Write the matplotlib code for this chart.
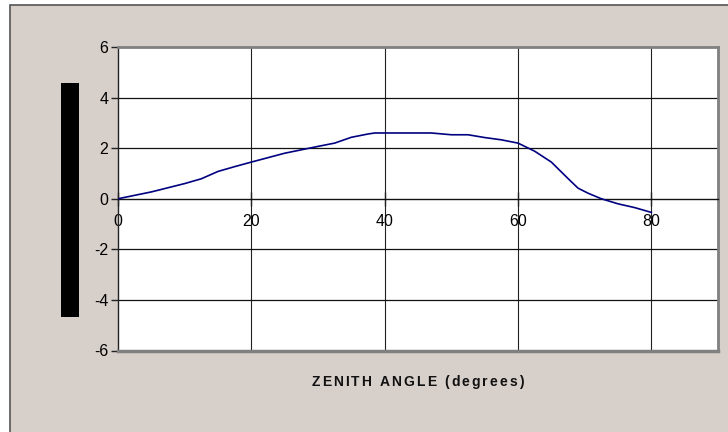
import matplotlib
matplotlib.use("Agg")
import matplotlib.pyplot as plt
from matplotlib.patches import Rectangle

# zenith angle (deg) and the unlabeled quantity
zenith = [0, 5, 10, 12.5, 15, 17.5, 20, 25, 30, 32.5, 35, 37.5, 38.5,
          47, 50, 52.5, 55, 57.5, 60, 62.5, 65, 67.5, 69, 70.5, 72.5,
          75, 77.5, 80]
values = [0, 0.27, 0.6, 0.79, 1.08, 1.27, 1.45, 1.8, 2.07, 2.2, 2.43,
          2.56, 2.6, 2.6, 2.53, 2.53, 2.42, 2.33, 2.2, 1.88, 1.45, 0.8,
          0.42, 0.22, 0.0, -0.2, -0.35, -0.54]
xticks = [0, 20, 40, 60, 80]
yticks = [-6, -4, -2, 0, 2, 4, 6]
xlabel = 'ZENITH ANGLE (degrees)'

plt.rcParams['font.family'] = ['Liberation Sans', 'DejaVu Sans']
plt.rcParams['axes.unicode_minus'] = False

W, H = 728, 432
fig = plt.figure(figsize=(W / 100, H / 100), dpi=100)
fig.patch.set_facecolor('white')

# chart area background with dark frame
fig.patches.append(Rectangle((10 / W, -0.01), 1, 1.01 - 5 / H, transform=fig.transFigure,
                             facecolor='#d7cfca', edgecolor='#555555', lw=1.2,
                             zorder=-5))

ax = fig.add_axes([118 / W, 1 - 350.5 / H, 600 / W, 303.5 / H])
ax.set_facecolor('white')
ax.plot(zenith, values, color='#000080', lw=1.2, zorder=3)

ax.set_xlim(0, 90)
ax.set_ylim(-6, 6)
ax.set_xticks(xticks)
ax.set_yticks(yticks)

for x in xticks[1:]:
    ax.axvline(x, color='#222222', lw=0.8, zorder=1)
for y in [-4, -2, 2, 4]:
    ax.axhline(y, color='#111111', lw=0.9, zorder=1)

for s in ['top', 'right']:
    ax.spines[s].set_color('#808080')
    ax.spines[s].set_linewidth(2)
ax.spines['left'].set_color('#222222')
ax.spines['left'].set_linewidth(1)
ax.spines['bottom'].set_position(('data', 0))
ax.spines['bottom'].set_color('#111111')
ax.spines['bottom'].set_linewidth(1)
ax.axhline(-6, color='#808080', lw=2.5, zorder=4, clip_on=False)

ax.tick_params(axis='y', direction='out', length=5, width=1, color='#222222',
               labelsize=11.5, pad=2)
ax.tick_params(axis='x', direction='inout', length=10, width=1, color='#222222',
               labelsize=11.5, pad=6)

# x label with wide letter spacing, laid out one character at a time
renderer = fig.canvas.get_renderer()
track = 2.0
parts = []
total = 0
for ch in xlabel:
    t = fig.text(0, 1 - 382 / H, ch, ha='left', va='center', fontsize=10,
                 fontweight='bold', color='#111111')
    w = t.get_window_extent(renderer).width if ch != ' ' else 4.5
    parts.append((t, w))
    total += w + track
total -= track
x0 = 417.5 - total / 2
for t, w in parts:
    t.set_x(x0 / W)
    x0 += w + track

# redacted axis label block
fig.patches.append(Rectangle((61 / W, 1 - 317 / H), 18 / W, 234 / H,
                             transform=fig.transFigure, facecolor='black',
                             edgecolor='none', zorder=5))

fig.savefig('out.png', dpi=100, facecolor=fig.get_facecolor())
